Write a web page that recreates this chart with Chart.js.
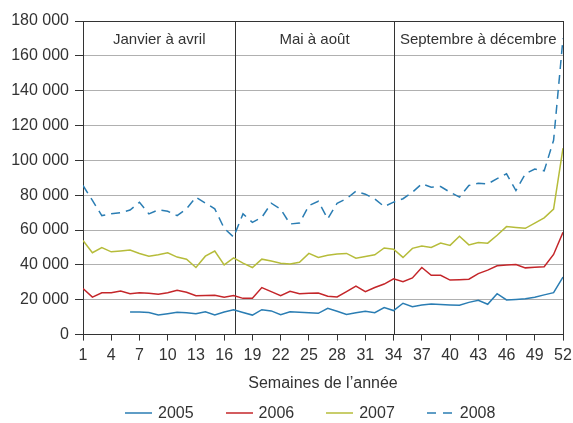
<!DOCTYPE html>
<html>
<head>
<meta charset="utf-8">
<script src="https://cdn.jsdelivr.net/npm/chart.js@4/dist/chart.umd.min.js"></script>
<style>
  body { margin: 0; background: #fff; }
  #wrap { position: relative; width: 573px; height: 423px; }
  #legend { position: absolute; left: 125px; top: 403px; display: flex; gap: 32px;
    font: 16px "Liberation Sans", Arial, sans-serif; color: #333; }
  #legend .item { display: flex; align-items: center; gap: 6px; height: 20px; }
</style>
</head>
<body>
<div id="wrap">
  <canvas id="chart" width="573" height="423"></canvas>
  <div id="legend"></div>
</div>
<script>
// semaines 1..52
const weeks = []
for (let w = 1; w <= 52; w++) weeks.push(w)
const weekTicks = [1, 4, 7, 10, 13, 16, 19, 22, 25, 28, 31, 34, 37, 40, 43, 46, 49, 52]
const yTicks = [0, 20000, 40000, 60000, 80000, 100000, 120000, 140000, 160000, 180000]

const sectionLabels = ['Janvier à avril', 'Mai à août', 'Septembre à décembre']
const sectionEdges = [1, 17.2, 34, 52]

const years = ['2005', '2006', '2007', '2008']

const v2005 = [null, null, null, null, null, 13000, 13000, 12700, 11300, 12000,
  12800, 12500, 12000, 13100, 11300, 13000, 14300, 12700, 11200, 14300,
  13600, 11400, 13100, 12800, 12500, 12200, 15100, 13400, 11600, 12500,
  13400, 12600, 15500, 13800, 18000, 16000, 17000, 17600, 17300, 17000,
  16800, 18500, 19700, 17400, 23500, 19900, 20200, 20600, 21500, 22800,
  24100, 33000]
const v2006 = [26500, 21500, 24000, 24000, 25000, 23500, 24000, 23800, 23200, 24000,
  25500, 24300, 22300, 22500, 22600, 21500, 22400, 20800, 20800, 27000,
  24700, 22400, 24900, 23500, 23700, 23900, 22000, 21600, 24700, 27800,
  24700, 27000, 29000, 32000, 30300, 32500, 38500, 34000, 34000, 31300,
  31500, 31800, 35000, 37000, 39500, 40000, 40200, 38300, 38700, 39000,
  46000, 58700]
const v2007 = [54000, 47000, 50000, 47500, 48000, 48500, 46600, 45000, 45800, 47000,
  44500, 43300, 38500, 45000, 48000, 40000, 44000, 41000, 38500, 43300,
  42300, 41000, 40500, 41500, 46600, 44300, 45500, 46300, 46600, 43900,
  44800, 45800, 49700, 49000, 44300, 49500, 50800, 50000, 52500, 51200,
  56500, 51500, 52800, 52500, 57000, 62000, 61500, 61000, 64000, 67000,
  72000, 107000]
const v2008 = [85600, 77000, 68300, 69300, 70000, 71500, 76000, 69300, 71600, 70800,
  68300, 72200, 78900, 75500, 72200, 61000, 56000, 69300, 64400, 67300,
  75400, 72000, 63500, 64000, 74000, 76500, 66400, 75400, 78000, 82300,
  80600, 77900, 73500, 76000, 78000, 81700, 86600, 84600, 85000, 81700,
  78900, 85600, 86900, 86500, 89500, 92300, 82700, 92300, 95000, 94000,
  111500, 170000]

const colors = ['#2a7db3', '#c4262a', '#b6bc3a', '#2a7db3']
const dashes = [[], [], [], [9, 6]]
const values = [v2005, v2006, v2007, v2008]

const FONT = '"Liberation Sans", Arial, sans-serif'
const TXT = '#333'

function fmt(v) {
  return String(v).replace(/\B(?=(\d{3})+(?!\d))/g, ' ')
}

// dividers + section names
const sections = {
  id: 'sections',
  beforeDatasetsDraw(chart) {
    const {ctx, chartArea, scales} = chart
    ctx.save()
    ctx.strokeStyle = TXT
    ctx.lineWidth = 1
    for (let i = 1; i < sectionEdges.length; i++) {
      const x = Math.round(scales.x.getPixelForValue(sectionEdges[i])) + 0.5
      ctx.beginPath()
      ctx.moveTo(x, chartArea.top)
      ctx.lineTo(x, chartArea.bottom)
      ctx.stroke()
    }
    ctx.fillStyle = TXT
    ctx.font = '15px ' + FONT
    ctx.textAlign = 'center'
    ctx.textBaseline = 'middle'
    const yMid = (scales.y.getPixelForValue(180000) + scales.y.getPixelForValue(160000)) / 2
    sectionLabels.forEach((lab, i) => {
      const x0 = scales.x.getPixelForValue(sectionEdges[i])
      const x1 = scales.x.getPixelForValue(sectionEdges[i + 1])
      ctx.fillText(lab, (x0 + x1) / 2, yMid + 1)
    })
    ctx.restore()
  }
}

new Chart(document.getElementById('chart'), {
  type: 'line',
  data: {
    labels: weeks,
    datasets: years.map((y, i) => ({
      label: y,
      data: values[i],
      borderColor: colors[i],
      borderWidth: 1.5,
      borderDash: dashes[i],
      pointRadius: 0,
      tension: 0,
      fill: false
    }))
  },
  options: {
    responsive: false,
    devicePixelRatio: 1,
    animation: false,
    layout: { padding: { top: 21, right: 10, left: 10, bottom: 30 } },
    plugins: { legend: { display: false }, tooltip: { enabled: false } },
    scales: {
      x: {
        type: 'linear',
        min: 1,
        max: 52,
        afterBuildTicks: s => { s.ticks = weekTicks.map(v => ({ value: v })) },
        afterFit: s => { s.paddingLeft = 0; s.paddingRight = 0 },
        border: { color: TXT, width: 1 },
        grid: { drawOnChartArea: false, drawTicks: true, tickLength: 6, tickColor: TXT },
        ticks: { color: TXT, font: { family: FONT, size: 16 }, padding: 5, maxRotation: 0, autoSkip: false },
        title: {
          display: true,
          text: 'Semaines de l’année',
          color: TXT,
          font: { family: FONT, size: 16 },
          padding: { top: 4, bottom: 0 }
        }
      },
      y: {
        min: 0,
        max: 180000,
        afterBuildTicks: s => { s.ticks = yTicks.map(v => ({ value: v })) },
        afterFit: s => { s.width = 73 },
        border: { color: TXT, width: 1 },
        grid: {
          color: c => c.tick && c.tick.value === 180000 ? TXT : '#b0b0b0',
          tickColor: TXT,
          tickLength: 8
        },
        ticks: {
          color: TXT,
          font: { family: FONT, size: 16 },
          padding: 6,
          callback: v => fmt(v)
        }
      }
    }
  },
  plugins: [sections]
})

// legend
const legend = document.getElementById('legend')
years.forEach((y, i) => {
  const item = document.createElement('div')
  item.className = 'item'
  const dash = dashes[i].length ? ' stroke-dasharray="9 7"' : ''
  item.innerHTML = '<svg width="27" height="4"><line x1="0" y1="2" x2="27" y2="2" stroke="' +
    colors[i] + '" stroke-width="1.5"' + dash + '/></svg><span>' + y + '</span>'
  legend.appendChild(item)
})
</script>
</body>
</html>
